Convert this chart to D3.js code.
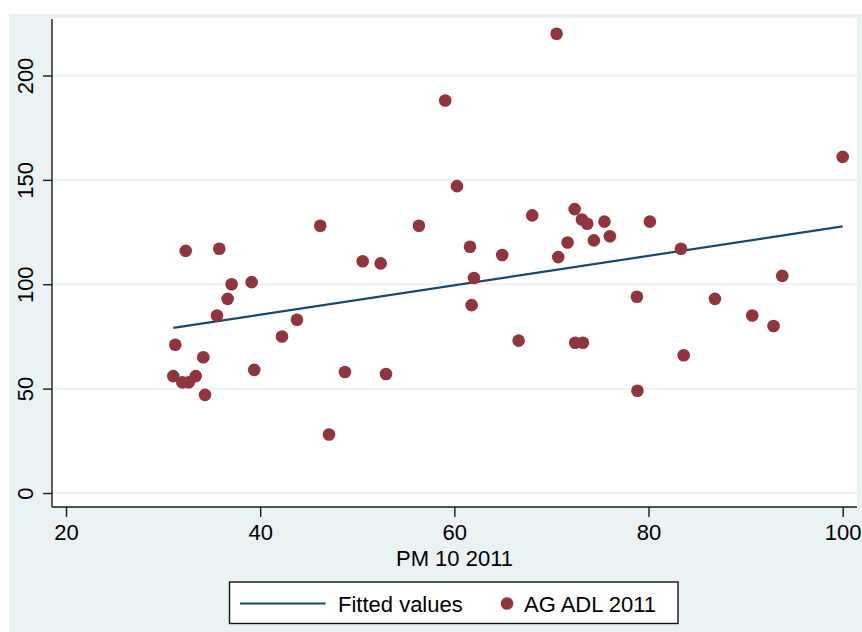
<!DOCTYPE html>
<html>
<head>
<meta charset="utf-8">
<script src="https://cdn.jsdelivr.net/npm/d3@7"></script>
<style>
  html, body { margin: 0; padding: 0; background: #ffffff; }
  svg { display: block; }
  text { font-family: "Liberation Sans", Arial, sans-serif; fill: #000; }
</style>
</head>
<body>
<div id="chart"></div>
<script>
// PM10 concentration (2011) by area
const pm10 = [
  31.26, 31.05, 31.98, 32.64, 33.36, 34.14, 34.32, 32.33, 35.79, 35.55,
  36.65, 37.06, 39.12, 39.39, 42.25, 43.79, 46.19, 48.73, 47.09, 50.56,
  52.41, 52.96, 56.35, 59.06, 60.27, 61.61, 62.02, 61.78, 64.93, 66.62,
  68.02, 70.53, 70.70, 71.66, 72.39, 73.14, 73.69, 72.45, 73.24, 74.37,
  75.46, 76.02, 80.14, 78.80, 78.86, 83.34, 83.62, 86.84, 90.68, 92.88,
  93.77, 100.0
];
// AG ADL 2011 for the same areas
const agAdl = [
  71, 56, 53, 53, 56, 65, 47, 116, 117, 85,
  93, 100, 101, 59, 75, 83, 128, 58, 28, 111,
  110, 57, 128, 188, 147, 118, 103, 90, 114, 73,
  133, 220, 113, 120, 136, 131, 129, 72, 72, 121,
  130, 123, 130, 94, 49, 117, 66, 93, 85, 80,
  104, 161
];
const xTicks = [20, 40, 60, 80, 100];
const yTicks = [0, 50, 100, 150, 200];
const xTitle = "PM 10 2011";
const legendLabels = ["Fitted values", "AG ADL 2011"];

const W = 862, H = 632;
const BG = "#EAF2F3", NAVY = "#1A476F", MAROON = "#90353B";
const FS = 22;

const svg = d3.select("#chart").append("svg")
  .attr("width", W).attr("height", H);

// graph region
svg.append("rect").attr("x", 9).attr("y", 14)
  .attr("width", W - 9).attr("height", H - 14).attr("fill", BG);

// plot region
const plot = { left: 52, right: 857, top: 18, bottom: 507 };
svg.append("rect")
  .attr("x", plot.left).attr("y", plot.top)
  .attr("width", plot.right - plot.left).attr("height", plot.bottom - plot.top)
  .attr("fill", "#ffffff");

const x = d3.scaleLinear().domain([20, 100]).range([66, 842.7]);
const y = d3.scaleLinear().domain([0, 200]).range([493, 75.5]);

// horizontal grid lines
svg.append("g").selectAll("line").data(yTicks).join("line")
  .attr("x1", plot.left).attr("x2", plot.right)
  .attr("y1", d => y(d)).attr("y2", d => y(d))
  .attr("stroke", BG).attr("stroke-width", 2);

// y axis
const yAxis = svg.append("g")
  .attr("transform", `translate(${plot.left},0)`)
  .call(d3.axisLeft(y).tickValues(yTicks).tickSize(9).tickFormat(d3.format("d")));
yAxis.select(".domain").remove();
yAxis.selectAll(".tick line").attr("stroke", "#1a1a1a").attr("stroke-width", 1.4);
yAxis.selectAll(".tick text")
  .attr("font-size", FS)
  .attr("font-family", "Liberation Sans, Arial, sans-serif")
  .attr("fill", "#000")
  .attr("text-anchor", "middle")
  .attr("dy", null)
  .attr("x", null)
  .attr("transform", "translate(-19,0) rotate(-90)")
  .attr("y", 0);

svg.append("line")
  .attr("x1", plot.left).attr("x2", plot.left)
  .attr("y1", plot.top + 1).attr("y2", plot.bottom)
  .attr("stroke", "#1a1a1a").attr("stroke-width", 1.4);

// x axis
const xAxis = svg.append("g")
  .attr("transform", `translate(0,${plot.bottom})`)
  .call(d3.axisBottom(x).tickValues(xTicks).tickSize(10).tickFormat(d3.format("d")));
xAxis.select(".domain").remove();
xAxis.selectAll(".tick line").attr("stroke", "#1a1a1a").attr("stroke-width", 1.4);
xAxis.selectAll(".tick text")
  .attr("font-size", FS)
  .attr("font-family", "Liberation Sans, Arial, sans-serif")
  .attr("fill", "#000")
  .attr("dy", null)
  .attr("y", 33);

svg.append("line")
  .attr("x1", plot.left).attr("x2", plot.right)
  .attr("y1", plot.bottom).attr("y2", plot.bottom)
  .attr("stroke", "#1a1a1a").attr("stroke-width", 1.4);

svg.append("text")
  .attr("x", (plot.left + plot.right) / 2).attr("y", 565.5)
  .attr("text-anchor", "middle").attr("font-size", FS)
  .text(xTitle);

// least-squares fit of AG ADL on PM10
const mx = d3.mean(pm10), my = d3.mean(agAdl);
let sxy = 0, sxx = 0;
pm10.forEach((v, i) => { sxy += (v - mx) * (agAdl[i] - my); sxx += (v - mx) * (v - mx); });
const slope = sxy / sxx, intercept = my - slope * mx;
const xExt = d3.extent(pm10);

svg.append("path")
  .datum(xExt.map(v => [v, intercept + slope * v]))
  .attr("d", d3.line().x(d => x(d[0])).y(d => y(d[1])))
  .attr("fill", "none").attr("stroke", NAVY).attr("stroke-width", 2.2);

// observations
svg.append("g").selectAll("circle")
  .data(pm10.map((v, i) => [v, agAdl[i]]))
  .join("circle")
  .attr("cx", d => x(d[0])).attr("cy", d => y(d[1]))
  .attr("r", 6.3).attr("fill", MAROON);

// legend
const lg = svg.append("g");
lg.append("rect").attr("x", 229.5).attr("y", 582)
  .attr("width", 448.5).attr("height", 41.5)
  .attr("fill", "#ffffff").attr("stroke", "#111").attr("stroke-width", 1.4);
lg.append("line").attr("x1", 240).attr("x2", 325.5)
  .attr("y1", 603.5).attr("y2", 603.5)
  .attr("stroke", NAVY).attr("stroke-width", 2.2);
lg.append("text").attr("x", 338).attr("y", 611.5)
  .attr("font-size", FS).text(legendLabels[0]);
lg.append("circle").attr("cx", 507).attr("cy", 603.5).attr("r", 6.3).attr("fill", MAROON);
lg.append("text").attr("x", 524).attr("y", 611.5)
  .attr("font-size", FS).text(legendLabels[1]);
</script>
</body>
</html>
